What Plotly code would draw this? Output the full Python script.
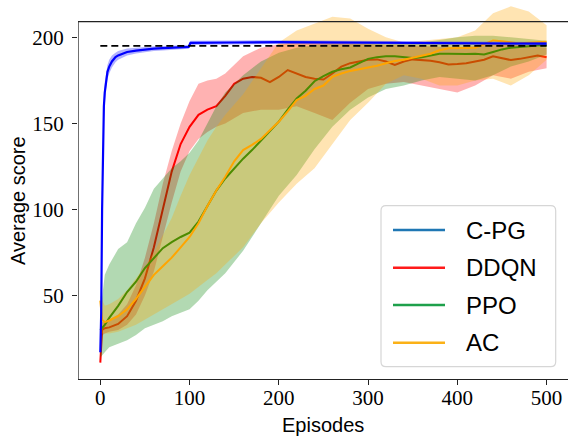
import plotly.graph_objects as go

# ---------------- data ----------------
# C-PG
cpg_x = [0, 1, 2, 3, 4, 5, 6, 8, 10, 13, 17, 20, 25, 30, 40, 50, 60, 70, 80, 90, 99, 101,
         120, 150, 200, 250, 300, 350, 400, 450, 500]
cpg_mean = [17, 40, 100, 146, 160, 168, 173, 180, 183, 186, 188.5, 189.5, 190.5, 191.5, 192.3,
            193, 193.4, 193.7, 194, 194.3, 194.5, 196.8, 197, 197, 197.2, 197, 197, 196.8,
            196.8, 196.5, 196.3]
cpg_upper = [20, 48, 112, 155, 168, 174, 178, 184, 187, 189.5, 191, 192, 192.8, 193.5, 194,
             194.5, 194.8, 195, 195.2, 195.4, 195.6, 198, 198.2, 198.2, 198.3, 198.1, 198,
             197.8, 197.8, 197.5, 197.3]
cpg_lower = [14, 32, 88, 137, 152, 162, 168, 176, 179, 182.5, 185.5, 187, 188.2, 189.5, 190.6,
             191.5, 192, 192.4, 192.8, 193.2, 193.4, 195.6, 195.8, 195.8, 196.1, 195.9, 196,
             195.8, 195.8, 195.5, 195.3]

# mean curves (DDQN, PPO, AC) sampled on this grid
mean_x = [0, 2, 5, 10, 20, 30, 40, 50, 60, 70, 80, 90, 100, 110, 120, 130, 140, 150, 160, 170,
          180, 190, 200, 210, 220, 230, 240, 250, 260, 270, 280, 290, 300, 310, 320, 330, 340,
          350, 360, 370, 380, 390, 400, 410, 420, 430, 440, 450, 460, 470, 480, 490, 500]
ddqn_mean = [11, 30, 31, 31.5, 33.5, 38, 47, 60, 78, 100, 122, 138, 148, 155, 158, 160, 166,
             173, 176, 177, 176.5, 174, 177, 181, 179, 177, 176, 175.5, 179, 183, 185, 186, 187,
             187.2, 186, 184, 186, 187.2, 187, 186.4, 185.5, 184.2, 184.5, 185, 186, 187, 189,
             188, 186.8, 187.5, 188.7, 189.5, 188.4]
ppo_mean = [30, 31, 33, 37, 44, 52, 58, 66, 72, 77.5, 81, 84, 86.5, 93, 102, 111, 118, 124,
            129.5, 134.5, 140, 146, 151, 158, 164.5, 169, 174.5, 177.5, 180, 181.5, 182.5, 185,
            187.5, 188.5, 189, 189, 188.5, 188, 188.5, 189.5, 190.5, 190.5, 190.3, 190.3, 190.5,
            190, 191.5, 193, 194, 194.5, 195, 195.2, 195.4]
ac_mean = [47, 36, 34.5, 35.5, 38, 42, 48, 55, 62, 67, 72, 78, 84, 92, 102, 111, 119, 128,
           134.5, 137.5, 141, 146, 151, 157, 163.5, 166, 170, 172, 177, 179, 180.5, 181.5, 182.5,
           183.5, 185, 186.3, 187, 188, 189.3, 190.5, 192.5, 193.6, 193.6, 193.6, 194, 196,
           198.2, 197.8, 197, 196.5, 196.8, 197.2, 197.5]

# bands sampled on this grid
band_x = [0, 5, 10, 20, 30, 40, 50, 60, 70, 80, 90, 100, 110, 120, 130, 140, 160, 180, 200,
          220, 240, 260, 280, 300, 320, 340, 360, 380, 400, 420, 440, 460, 480, 500]
ddqn_upper = [34, 35, 36, 39, 45, 56, 72, 92, 115, 134, 150, 163, 173, 175, 176, 179, 189, 194,
              196, 197, 197.5, 197, 196.5, 196, 195.5, 195.5, 195, 194.5, 194, 195, 196, 196,
              195, 194]
ddqn_lower = [26, 28, 29, 30, 33, 39, 50, 64, 84, 104, 122, 134, 141, 145, 148, 150, 156, 158,
              158, 160, 156, 152, 162, 170, 173, 174, 172, 170, 168, 172, 178, 176, 180, 182]
ppo_upper = [40, 62, 68, 77, 81, 92, 101, 112, 118, 124, 128, 133, 140, 150, 160, 168, 178, 186,
             191, 194, 195.5, 196, 196, 196.5, 196, 196.5, 197, 198.5, 200, 201, 201, 200, 199,
             198]
ppo_lower = [14, 17, 20, 22, 24, 27, 31, 33, 35, 38, 40, 42, 47, 53, 58, 63, 76, 92, 108, 120,
             135, 148, 158, 165, 170, 172, 175, 177, 176, 175, 178, 183, 186, 190]
ac_upper = [50, 44, 45, 48, 53, 60, 67, 75, 85, 95, 108, 120, 130, 140, 148, 155, 167, 182, 197,
            204, 208, 212, 211, 205, 200, 197, 198, 199, 200, 204, 214, 218, 215, 207]
ac_lower = [28, 28, 28, 29, 31, 33, 36, 39, 42, 45, 48, 51, 55, 59, 63, 68, 78, 92, 104, 115,
            124, 138, 152, 162, 173, 178, 176, 172, 172, 175, 176, 172, 178, 187]

target_x = [0, 500]
target_y = [195, 195]

x_ticks = [0, 100, 200, 300, 400, 500]
y_ticks = [50, 100, 150, 200]

legend_names = ["C-PG", "DDQN", "PPO", "AC"]
legend_colors = ["#1f77b4", "#ff1a1a", "#1ea04b", "#fbb117"]

# ---------------- figure ----------------
fig = go.Figure()


def band(x, lo, hi, color):
    fig.add_trace(go.Scatter(x=list(x) + list(x)[::-1], y=list(hi) + list(lo)[::-1],
                             fill="toself", fillcolor=color, line=dict(width=0),
                             mode="lines", hoverinfo="skip", showlegend=False))


def line(x, y, color, w=2):
    fig.add_trace(go.Scatter(x=x, y=y, mode="lines", line=dict(color=color, width=w),
                             showlegend=False))


band(band_x, ddqn_lower, ddqn_upper, "rgba(255,0,0,0.3)")
line(mean_x, ddqn_mean, "#ff0000")
band(band_x, ppo_lower, ppo_upper, "rgba(0,128,0,0.3)")
line(mean_x, ppo_mean, "#008000")
band(band_x, ac_lower, ac_upper, "rgba(255,165,0,0.3)")
line(mean_x, ac_mean, "#ffa500")
band(cpg_x, cpg_lower, cpg_upper, "rgba(0,0,255,0.3)")
line(cpg_x, cpg_mean, "#0000ff", 2.2)
fig.add_trace(go.Scatter(x=target_x, y=target_y, mode="lines",
                         line=dict(color="black", width=1.8, dash="7px,4px"),
                         showlegend=False))

W, H = 568, 438
L, B = 78, 59
PW, PH = W - L, H - B
X_LO, X_HI = -25, 524
Y_LO, Y_HI, Y_TOP = 1.5, 221.7, 209.1


def px(xp):
    return (xp - L) / PW


def py(yp):
    return (H - B - yp) / PH


shapes = []
# top and left spines
shapes.append(dict(type="line", xref="x", yref="y", x0=X_LO, x1=X_HI, y0=Y_TOP, y1=Y_TOP,
                   line=dict(color="#222222", width=1.3), layer="above"))
shapes.append(dict(type="line", xref="x", yref="y", x0=X_LO, x1=X_LO, y0=Y_LO, y1=Y_TOP,
                   line=dict(color="#222222", width=1.3), layer="above"))

# legend box (rounded)
bx0, bx1, by0, by1 = 381, 555.7, 205.7, 366.7
r = 5
rx, ry = r / PW, r / PH
X0, X1, Yt, Yb = px(bx0), px(bx1), py(by0), py(by1)
path = (f"M {X0+rx},{Yt} L {X1-rx},{Yt} Q {X1},{Yt} {X1},{Yt-ry} "
        f"L {X1},{Yb+ry} Q {X1},{Yb} {X1-rx},{Yb} L {X0+rx},{Yb} Q {X0},{Yb} {X0},{Yb+ry} "
        f"L {X0},{Yt-ry} Q {X0},{Yt} {X0+rx},{Yt} Z")
shapes.append(dict(type="path", xref="paper", yref="paper", path=path,
                   fillcolor="rgba(255,255,255,0.8)", line=dict(color="#d6d6d6", width=1.2),
                   layer="above"))
rows = [230, 267.7, 305, 342.7]
annotations = []
for name, col, ry_ in zip(legend_names, legend_colors, rows):
    shapes.append(dict(type="line", xref="paper", yref="paper", x0=px(393), x1=px(445),
                       y0=py(ry_), y1=py(ry_), line=dict(color=col, width=2.5), layer="above"))
    annotations.append(dict(x=px(464), y=py(ry_), xref="paper", yref="paper", text=name,
                            showarrow=False, xanchor="left", yanchor="middle",
                            font=dict(family="Liberation Sans", size=24, color="black")))

annotations.append(dict(x=px(18), y=py(201), xref="paper", yref="paper", text="Average score",
                        textangle=-90, showarrow=False, xanchor="center", yanchor="middle",
                        font=dict(family="Liberation Sans", size=20, color="black")))
annotations.append(dict(x=px(323), y=py(425), xref="paper", yref="paper", text="Episodes",
                        showarrow=False, xanchor="center", yanchor="middle",
                        font=dict(family="Liberation Sans", size=20, color="black")))

fig.update_layout(
    width=W, height=H, margin=dict(l=L, r=0, t=0, b=B, pad=0, autoexpand=False),
    plot_bgcolor="white", paper_bgcolor="white",
    shapes=shapes, annotations=annotations, showlegend=False,
    font=dict(family="Liberation Serif", size=21, color="black"),
)
fig.update_xaxes(range=[X_LO, X_HI], tickvals=x_ticks, ticktext=[str(v) for v in x_ticks],
                 showgrid=False, zeroline=False, showline=True, linecolor="#222222",
                 linewidth=1.3, ticks="outside", ticklen=5, tickwidth=1.2, tickcolor="#222222",
                 ticklabelstandoff=-5, automargin=False)
fig.update_yaxes(range=[Y_LO, Y_HI], tickvals=y_ticks, ticktext=[str(v) for v in y_ticks],
                 showgrid=False, zeroline=False, showline=False,
                 ticks="outside", ticklen=5, tickwidth=1.2, tickcolor="#222222",
                 ticklabelstandoff=4, automargin=False)

fig.write_html("out.html", config={"displayModeBar": False},
               post_script="document.body.style.margin='0';document.body.style.padding='0';"
                           "document.body.style.overflow='hidden';")
